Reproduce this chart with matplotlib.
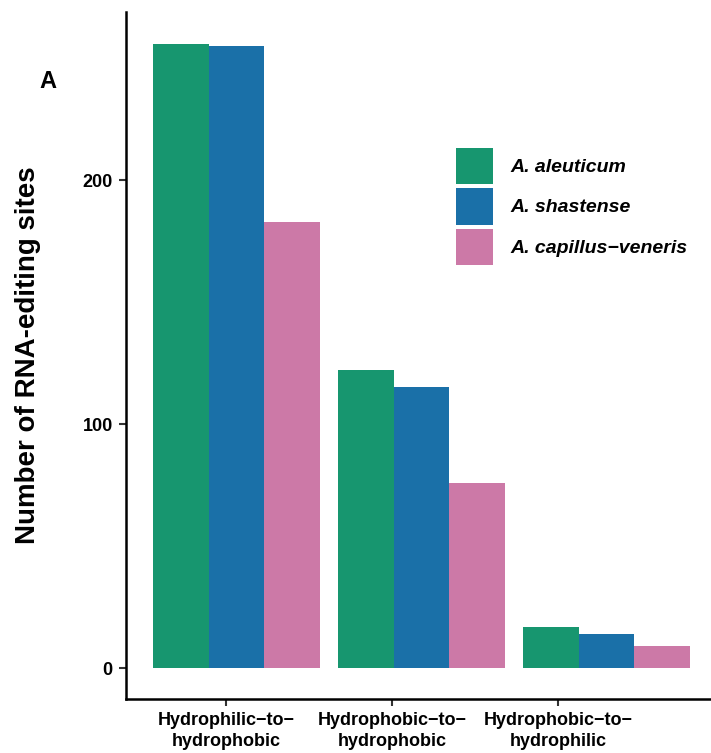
import numpy as np
import matplotlib.pyplot as plt
from matplotlib.patches import Patch

# dados
categorias = ['Hydrophilic\u2212to\u2212\nhydrophobic',
              'Hydrophobic\u2212to\u2212\nhydrophobic',
              'Hydrophobic\u2212to\u2212\nhydrophilic']
especies = ['A. aleuticum', 'A. shastense', 'A. capillus\u2212veneris']
aleuticum = [256, 122, 17]
shastense = [255, 115, 14]
capillus = [183, 76, 9]
cores = ['#17966F', '#1A70A8', '#CC79A7']

plt.rcParams['font.family'] = ['Liberation Sans', 'DejaVu Sans']

fig = plt.figure(figsize=(7.11, 7.53), dpi=100)
ax = fig.add_axes([0.1772, 0.0717, 0.8228, 0.9123])

# as barras estão ligeiramente desalinhadas com os ticks no original
x_ticks = np.arange(1, 4)
centros = 1.063 + np.arange(3) * 1.1145
largura = 0.334
for k, (serie, cor, nome) in enumerate(zip([aleuticum, shastense, capillus], cores, especies)):
    ax.bar(centros + (k - 1) * largura, serie, width=largura, color=cor, label=nome)

ax.set_xlim(0.398, 3.922)
ax.set_ylim(-12.7, 268.9)
ax.set_xticks(x_ticks)
ax.set_xticklabels(categorias, fontsize=13, fontweight='bold', linespacing=1.3)
ax.set_yticks([0, 100, 200])
ax.set_yticklabels(['0', '100', '200'], fontsize=13, fontweight='bold')
ax.tick_params(axis='both', length=5, width=1.5, color='#333333', pad=4.5)

for s in ['top', 'right']:
    ax.spines[s].set_visible(False)
for s in ['left', 'bottom']:
    ax.spines[s].set_linewidth(1.8)

ax.set_ylabel('Number of RNA-editing sites', fontsize=20, fontweight='bold', labelpad=30)

fig.text(47.5 / 711, 1 - 81.5 / 753, 'A', fontsize=17, fontweight='bold', ha='center', va='center')

handles = [Patch(facecolor=c, edgecolor='none') for c in cores]
leg = ax.legend(handles, especies, loc='upper left', bbox_to_anchor=(0.564, 0.802),
                frameon=False, borderpad=0, borderaxespad=0,
                handlelength=1.9, handleheight=2.5, handletextpad=0.9,
                labelspacing=0.2, prop={'size': 14, 'weight': 'bold', 'style': 'italic'})

fig.savefig('out.png', dpi=100)
